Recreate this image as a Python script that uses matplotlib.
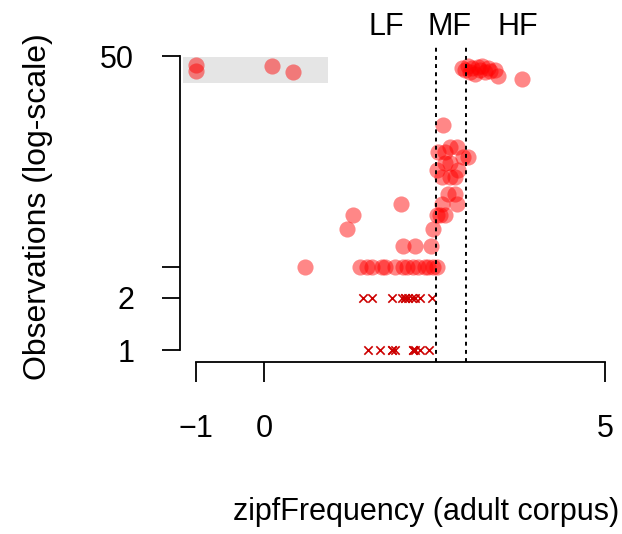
import numpy as np
import matplotlib.pyplot as plt

plt.rcParams['font.family'] = ['Liberation Sans', 'DejaVu Sans']

# words in the grey band (censored at the top)
band_x = [-1.0, -1.0, 0.12, 0.43]
band_y = [44.4, 41.0, 44.0, 40.4]

# observed words (circles)
obs_x = [0.60, 1.41, 1.51, 1.58, 1.73, 1.77, 1.92, 2.04, 2.10, 2.18, 2.26, 2.36, 2.40, 2.48, 2.54,
         2.04, 2.21, 2.45,
         1.22, 2.48,
         1.30, 2.54, 2.58, 2.65,
         2.01, 2.61, 2.83,
         2.70, 2.80,
         2.61, 2.80, 2.73,
         2.54, 2.84,
         2.73, 2.65,
         2.92, 2.99,
         2.55, 2.65,
         2.83, 2.73,
         2.62,
         2.90, 2.95, 2.99, 3.02, 3.05, 3.09, 3.14, 3.17, 3.20, 3.24, 3.28, 3.31, 3.39, 3.43, 3.78]
obs_y = [3] * 15 + [4] * 3 + [5] * 2 + [6] * 4 + [7] * 3 + [8] * 2 + [10] * 3 + [11] * 2 \
    + [12] * 2 + [13] * 2 + [14] * 2 + [15] * 2 + [20] \
    + [42.7, 41.5, 43.9, 40.4, 42.7, 39.3, 43.3, 41.5, 43.9, 40.4, 42.7, 41.0, 41.5, 38.2, 36.9]

# rare words (crosses)
rare_x = [1.45, 1.58, 1.88, 2.02, 2.07, 2.07, 2.11, 2.17, 2.21, 2.29, 2.46,
          1.52, 1.70, 1.88, 1.88, 1.92, 2.18, 2.18, 2.21, 2.29, 2.42]
rare_y = [2] * 11 + [1] * 10

cutoffs = [2.52, 2.96]
band_xlim = [-1.19, 0.94]
band_ylim = [34.9, 49.4]

W, H = 622, 534
fig = plt.figure(figsize=(W / 100, H / 100), dpi=100)
ax = fig.add_axes([180 / W, (H - 362) / H, 440 / W, 322 / H])

x0 = (180 - 264) / 68.2
x1 = (620 - 264) / 68.2
ax.set_xlim(x0, x1)
ax.set_yscale('log')
ax.set_ylim(10 ** ((350 - 362) / 173), 10 ** ((350 - 40) / 173))

ax.fill_between(band_xlim, band_ylim[0], band_ylim[1], color='#e5e5e5', lw=0, zorder=0)

ax.scatter(band_x + obs_x, band_y + obs_y, s=135, color='red', alpha=0.47, lw=0, zorder=2)
ax.scatter(rare_x, rare_y, marker='x', s=36, color='#cc0000', lw=1.2, zorder=2)

for c in cutoffs:
    ax.plot([c, c], [ax.get_ylim()[0], 58], color='black', lw=1.4,
            linestyle=(0, (2, 2.2)), zorder=3, clip_on=False)

for s in ['top', 'right']:
    ax.spines[s].set_visible(False)
ax.spines['left'].set_bounds(1, 50)
ax.spines['bottom'].set_bounds(-1, 5)
ax.spines['left'].set_linewidth(1.3)
ax.spines['bottom'].set_linewidth(1.3)

ax.set_xticks([-1, 0, 5])
ax.set_xticklabels(['\u22121', '0', '5'])
ax.set_yticks([1, 2, 3, 50])
ax.set_yticklabels(['1', '2', '', '50'])
ax.minorticks_off()
ax.tick_params(axis='x', length=14.5, width=1.3, pad=23, labelsize=22)
ax.tick_params(axis='y', length=13, width=1.3, pad=20, labelsize=22)

fs = 22
fig.text(386 / W, 1 - 27 / H, 'LF', ha='center', va='center', fontsize=fs)
fig.text(450 / W, 1 - 27 / H, 'MF', ha='center', va='center', fontsize=fs)
fig.text(518 / W, 1 - 27 / H, 'HF', ha='center', va='center', fontsize=fs)

fig.text(619 / W, 1 - 512 / H, 'zipfFrequency (adult corpus)', ha='right', va='center', fontsize=fs)
fig.text(38 / W, 1 - 207 / H, 'Observations (log-scale)', ha='center', va='center',
         rotation=90, fontsize=23)

fig.savefig('out.png', dpi=100)
